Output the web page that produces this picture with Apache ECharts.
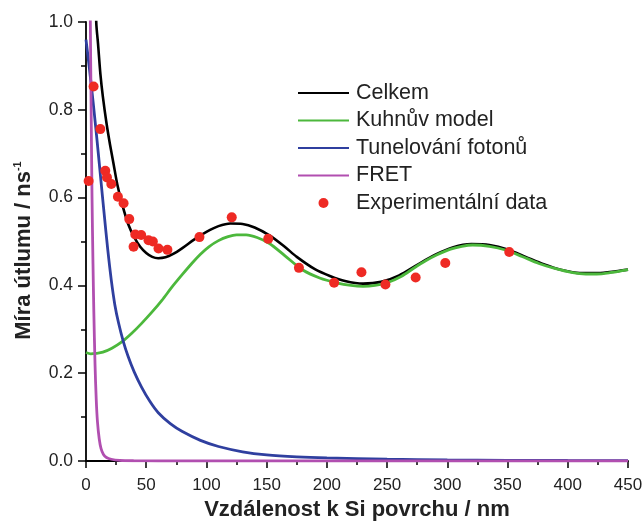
<!DOCTYPE html>
<html>
<head>
<meta charset="utf-8">
<script src="https://cdn.jsdelivr.net/npm/echarts@6/dist/echarts.min.js"></script>
<style>
html,body{margin:0;padding:0;background:#fff;}
#chart{width:643px;height:522px;}
</style>
</head>
<body>
<div id="chart"></div>
<script>
// ---- data ----
var seriesNames = ['Celkem', 'Kuhnův model', 'Tunelování fotonů', 'FRET', 'Experimentální data'];
var xTicks = [0, 50, 100, 150, 200, 250, 300, 350, 400, 450];
var yTicks = [0.0, 0.2, 0.4, 0.6, 0.8, 1.0];

var celkem = [[6.5,1.25],[8.5,1.0],[10,0.95],[12,0.88],[14,0.83],[17,0.77],[20,0.72],[23,0.675],[26,0.63],[30,0.585],[35,0.54],[40,0.51],[45,0.488],[50,0.474],[55,0.465],[60,0.462],[66,0.464],[72,0.471],[80,0.485],[90,0.505],[100,0.522],[110,0.535],[120,0.541],[130,0.540],[140,0.532],[153,0.513],[165,0.488],[175,0.465],[190,0.437],[203,0.421],[215,0.410],[230,0.404],[245,0.408],[260,0.423],[275,0.447],[290,0.470],[305,0.487],[320,0.494],[335,0.492],[350,0.482],[365,0.465],[380,0.448],[395,0.435],[410,0.428],[425,0.428],[440,0.432],[450,0.436]];

var kuhn = [[0,0.247],[4,0.244],[8,0.245],[14,0.248],[21.5,0.257],[30,0.272],[38,0.291],[46,0.313],[54.7,0.339],[63,0.366],[71.3,0.396],[80,0.425],[87.8,0.450],[95,0.471],[102,0.488],[110,0.502],[118,0.511],[125,0.515],[133,0.515],[142,0.509],[152,0.496],[165,0.468],[180,0.435],[194,0.417],[208,0.406],[220,0.400],[230,0.398],[240,0.400],[250,0.406],[262,0.421],[272,0.439],[282,0.456],[291,0.469],[302,0.482],[312,0.489],[321,0.492],[335,0.489],[349,0.480],[362,0.466],[376,0.450],[390,0.438],[404,0.429],[415,0.426],[424,0.426],[435,0.429],[448,0.435],[450,0.436]];

var tunel = [[0,0.96],[3,0.89],[6,0.815],[9,0.735],[12,0.65],[15,0.565],[18,0.483],[21,0.412],[24,0.355],[27,0.315],[31,0.272],[35,0.238],[40,0.203],[46,0.169],[53,0.136],[60,0.110],[70,0.085],[80,0.067],[95,0.047],[110,0.033],[130,0.021],[150,0.014],[175,0.0095],[200,0.007],[250,0.004],[300,0.0025],[350,0.0016],[400,0.0011],[450,0.0008]];

var fret = [[3.2,1.15],[3.6,1.0],[4.2,0.82],[5,0.6],[5.8,0.45],[6.5,0.34],[7.5,0.22],[8.5,0.14],[9.5,0.09],[11,0.05],[12.5,0.028],[14.5,0.015],[17,0.008],[21,0.004],[28,0.0015],[40,0.0005],[60,0],[450,0]];

var experiment = [[2.2,0.638],[6.3,0.853],[11.9,0.756],[16,0.661],[17.4,0.646],[21,0.631],[26.5,0.602],[31.2,0.587],[35.9,0.551],[39.5,0.488],[40.9,0.516],[45.8,0.515],[51.9,0.503],[55.5,0.500],[60.2,0.484],[67.6,0.481],[94.2,0.510],[121,0.555],[151.3,0.506],[176.8,0.440],[206,0.406],[228.7,0.430],[248.6,0.402],[273.7,0.418],[298.3,0.451],[351.4,0.476]];

var colors = ['#000000', '#4cb83c', '#2f3f9f', '#b14fb0', '#ee2a24'];

var chart = echarts.init(document.getElementById('chart'), null, {renderer: 'canvas'});
var fontFam = '"Liberation Sans", Arial, sans-serif';

function lineSeries(name, data, color, width, z) {
  return {
    name: name, type: 'line', data: data, symbol: 'none', showSymbol: false,
    smooth: 0.3, clip: true, z: z,
    lineStyle: {color: color, width: width},
    itemStyle: {color: color}
  };
}

var legendData = seriesNames.map(function (n, i) {
  if (i < 4) return {name: n, itemStyle: {opacity: 0, borderWidth: 0}};
  return {name: n};
});

var option = {
  animation: false,
  backgroundColor: '#ffffff',
  grid: {left: 86, right: 15, top: 22, bottom: 61, containLabel: false, outerBoundsMode: 'none'},
  legend: {
    data: legendData,
    orient: 'vertical',
    left: 292, top: 77,
    itemWidth: 51, itemHeight: 10, itemGap: 5.5,
    textStyle: {fontFamily: fontFam, fontSize: 21.5, color: '#222', lineHeight: 21.5, padding: [0,0,0,2]},
    selectedMode: false
  },
  xAxis: {
    type: 'value', min: 0, max: 450, interval: 50,
    name: 'Vzdálenost k Si povrchu / nm', nameLocation: 'middle', nameGap: 36,
    nameTextStyle: {fontFamily: fontFam, fontSize: 22, fontWeight: 'bold', color: '#222'},
    axisLine: {show: true, lineStyle: {color: '#000', width: 1.8}},
    axisTick: {show: true, inside: false, length: 7, lineStyle: {color: '#000', width: 1.5}},
    minorTick: {show: true, splitNumber: 2, length: 4, lineStyle: {color: '#000', width: 1.5}},
    splitLine: {show: false},
    axisLabel: {fontFamily: fontFam, fontSize: 17, color: '#222', margin: 16,
      formatter: function (v) { return xTicks.indexOf(v) >= 0 ? String(v) : ''; }}
  },
  yAxis: {
    type: 'value', min: 0, max: 1, interval: 0.2,
    name: 'Míra útlumu / ns{sup|-1}', nameLocation: 'middle', nameGap: 50,
    nameTextStyle: {fontFamily: fontFam, fontSize: 22, fontWeight: 'bold', color: '#222',
      padding: [0, 18, 0, 0],
      rich: {sup: {fontFamily: fontFam, fontSize: 11, fontWeight: 'bold', color: '#222', padding: [0,0,13,0]}}},
    axisLine: {show: true, lineStyle: {color: '#000', width: 1.8}},
    axisTick: {show: true, inside: false, length: 8, lineStyle: {color: '#000', width: 1.5}},
    minorTick: {show: true, splitNumber: 2, length: 5, lineStyle: {color: '#000', width: 1.5}},
    splitLine: {show: false},
    axisLabel: {fontFamily: fontFam, fontSize: 17.5, color: '#222', margin: 13,
      formatter: function (v) {
        for (var i = 0; i < yTicks.length; i++) { if (Math.abs(yTicks[i] - v) < 1e-9) return yTicks[i].toFixed(1); }
        return '';
      }}
  },
  series: [
    lineSeries(seriesNames[0], celkem, colors[0], 2.6, 2),
    lineSeries(seriesNames[1], kuhn, colors[1], 2.8, 3),
    lineSeries(seriesNames[2], tunel, colors[2], 2.8, 4),
    lineSeries(seriesNames[3], fret, colors[3], 2.8, 5),
    {
      name: seriesNames[4], type: 'scatter', data: experiment, symbol: 'circle', symbolSize: 10, z: 6,
      itemStyle: {color: colors[4], opacity: 1}
    }
  ]
};
chart.setOption(option);
</script>
</body>
</html>
